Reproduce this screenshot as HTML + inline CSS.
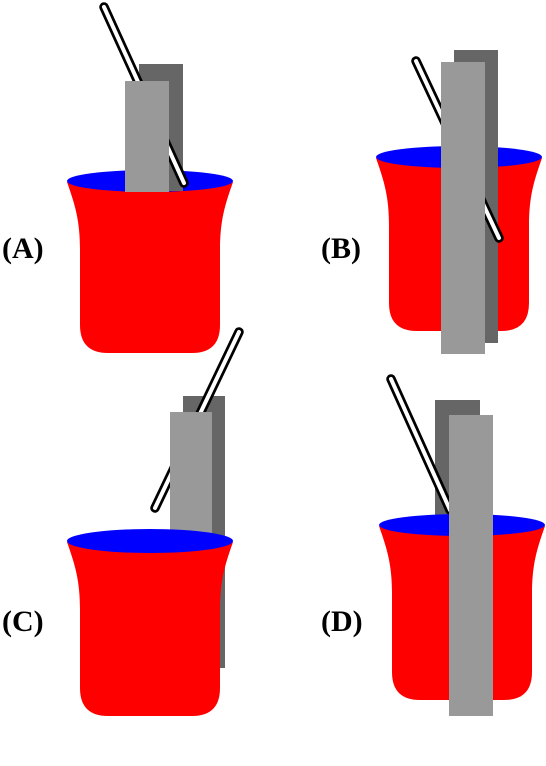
<!DOCTYPE html>
<html><head><meta charset="utf-8"><style>
html,body{margin:0;padding:0;background:#fff}
svg{display:block}
text{font-family:"Liberation Serif",serif;font-weight:bold;font-size:30px;fill:#000}
</style></head><body>
<svg width="546" height="766" viewBox="0 0 546 766">

<!-- Panel A -->
<g>
  <path fill="#ff0000" d="M67,182 C75,205 80,220 80,250 L80,325 Q80,353 108,353 L192,353 Q220,353 220,325 L220,250 C220,220 225,205 233,182 Z"/>
  <ellipse cx="150" cy="181" rx="83" ry="11" fill="#0000ff"/>
  <rect x="139" y="64" width="44" height="127" fill="#666666"/>
  <g><line x1="104" y1="7" x2="184" y2="183" stroke="#000" stroke-width="9.5" stroke-linecap="round"/><line x1="104" y1="7" x2="184" y2="183" stroke="#fff" stroke-width="4" stroke-linecap="round"/></g>
  <rect x="125" y="81" width="44" height="111" fill="#999999"/>
  <text x="2" y="258">(A)</text>
</g>

<!-- Panel B -->
<g>
  <path fill="#ff0000" d="M376,158 C384,181 389,196 389,226 L389,303 Q389,331 417,331 L501,331 Q529,331 529,303 L529,226 C529,196 534,181 542,158 Z"/>
  <ellipse cx="459" cy="157" rx="83" ry="11" fill="#0000ff"/>
  <rect x="454" y="50" width="44" height="293" fill="#666666"/>
  <g><line x1="416" y1="61" x2="499" y2="238" stroke="#000" stroke-width="9.5" stroke-linecap="round"/><line x1="416" y1="61" x2="499" y2="238" stroke="#fff" stroke-width="4" stroke-linecap="round"/></g>
  <rect x="441" y="62" width="44" height="292" fill="#999999"/>
  <text x="321" y="258">(B)</text>
</g>

<!-- Panel C -->
<g>
  <rect x="183" y="396" width="42" height="272" fill="#666666"/>
  <g><line x1="239" y1="332" x2="155" y2="508" stroke="#000" stroke-width="9.5" stroke-linecap="round"/><line x1="239" y1="332" x2="155" y2="508" stroke="#fff" stroke-width="4" stroke-linecap="round"/></g>
  <rect x="170" y="412" width="42" height="125" fill="#999999"/>
  <path fill="#ff0000" d="M67,542 C75,565 80,580 80,610 L80,688 Q80,716 108,716 L192,716 Q220,716 220,688 L220,610 C220,580 225,565 233,542 Z"/>
  <ellipse cx="150" cy="541" rx="83" ry="12" fill="#0000ff"/>
  <text x="2" y="631">(C)</text>
</g>

<!-- Panel D -->
<g>
  <rect x="435" y="400" width="45" height="140" fill="#666666"/>
  <g><line x1="391" y1="379" x2="450" y2="510" stroke="#000" stroke-width="9.5" stroke-linecap="round"/><line x1="391" y1="379" x2="450" y2="510" stroke="#fff" stroke-width="4" stroke-linecap="round"/></g>
  <path fill="#ff0000" d="M379,526 C387,549 392,564 392,594 L392,672 Q392,700 420,700 L504,700 Q532,700 532,672 L532,594 C532,564 537,549 545,526 Z"/>
  <ellipse cx="462" cy="525" rx="83" ry="11" fill="#0000ff"/>
  <rect x="449" y="415" width="44" height="301" fill="#999999"/>
  <text x="321" y="631">(D)</text>
</g>
</svg>
</body></html>
